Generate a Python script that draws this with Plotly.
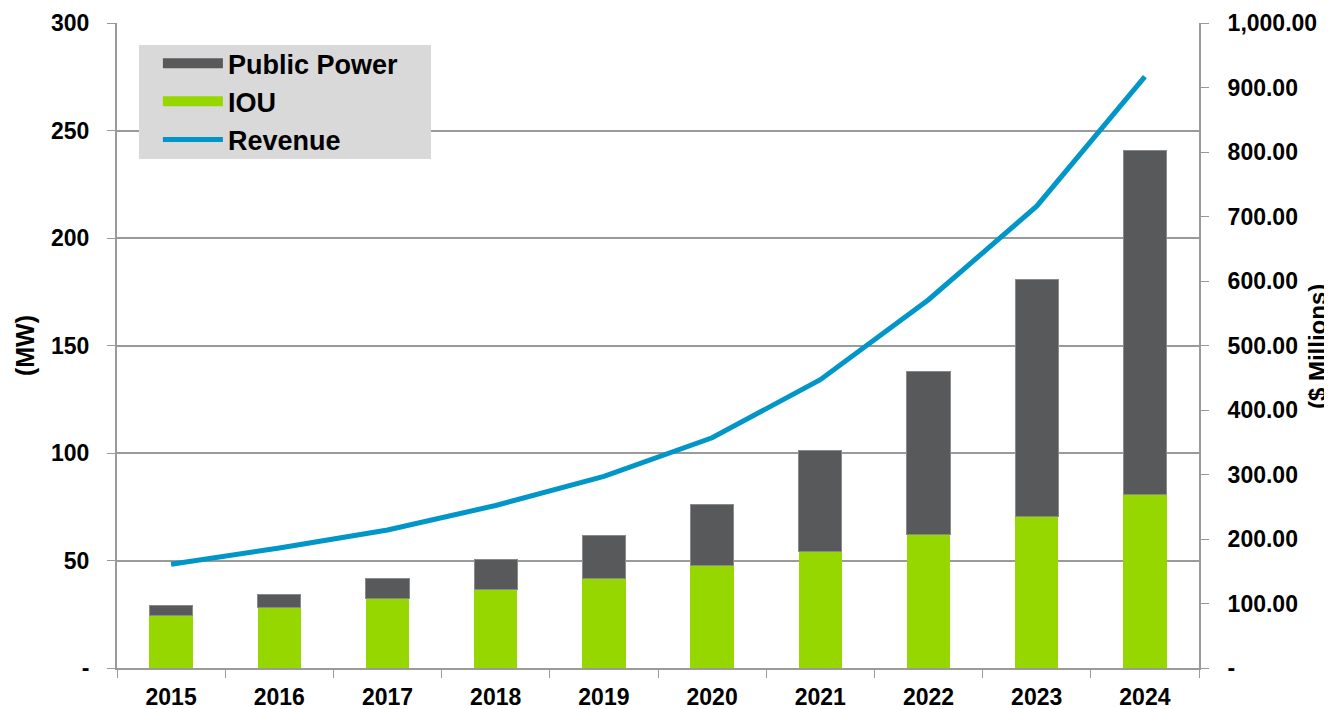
import plotly.graph_objects as go

years = ["2015", "2016", "2017", "2018", "2019", "2020", "2021", "2022", "2023", "2024"]
iou = [24.6, 28.0, 32.1, 36.6, 41.7, 47.6, 54.3, 62.0, 70.7, 80.6]
total = [29.0, 34.4, 41.4, 50.4, 61.5, 76.1, 101.2, 137.7, 180.7, 240.7]
public_power = [round(t - i, 1) for t, i in zip(total, iou)]
revenue = [161, 186, 214, 252, 297, 357, 447, 571, 716, 917]

left_ticks = [0, 50, 100, 150, 200, 250, 300]
left_labels = ["-", "50", "100", "150", "200", "250", "300"]
right_ticks = [0, 100, 200, 300, 400, 500, 600, 700, 800, 900, 1000]
right_labels = ["-", "100.00", "200.00", "300.00", "400.00", "500.00", "600.00",
                "700.00", "800.00", "900.00", "1,000.00"]

GREEN = "#97d700"
DARK = "#58595b"
BLUE = "#0096c8"
GRID = "#9a9a9a"
FONT = "Liberation Sans, Arial, sans-serif"

fig = go.Figure()
fig.add_trace(go.Bar(x=years, y=iou, name="IOU", marker=dict(color=GREEN, line=dict(width=0)),
                     showlegend=False))
fig.add_trace(go.Bar(x=years, y=public_power, name="Public Power",
                     marker=dict(color=DARK, line=dict(color="#8a8a8a", width=1)),
                     showlegend=False))
fig.add_trace(go.Scatter(x=years, y=revenue, name="Revenue", yaxis="y2", mode="lines",
                         line=dict(color=BLUE, width=5), showlegend=False))

# legend proxies
fig.add_trace(go.Scatter(x=[None], y=[None], mode="lines", name="Public Power",
                         line=dict(color=DARK, width=15)))
fig.add_trace(go.Scatter(x=[None], y=[None], mode="lines", name="IOU",
                         line=dict(color=GREEN, width=15)))
fig.add_trace(go.Scatter(x=[None], y=[None], mode="lines", name="Revenue",
                         line=dict(color=BLUE, width=5)))

# legend background box
fig.add_shape(type="rect", xref="paper", yref="paper",
              x0=0.0203, x1=0.2902, y0=0.789, y1=0.966,
              fillcolor="#d9d9d9", line=dict(width=0), layer="above")

# right axis title
fig.add_annotation(text="($ Millions)", xref="paper", yref="paper", x=1.109, y=0.499,
                   xanchor="center", yanchor="middle", textangle=-90, showarrow=False,
                   font=dict(size=24, weight="bold"))

fig.update_layout(
    width=1324, height=701,
    margin=dict(l=109, r=133, t=15, b=41),
    barmode="stack", bargap=0.6,
    plot_bgcolor="white", paper_bgcolor="white",
    font=dict(family=FONT, size=23, color="black", weight="bold"),
    xaxis=dict(type="category", showline=True, linecolor=GRID, linewidth=2,
               ticks="outside", tickson="boundaries", ticklen=8, tickcolor=GRID, tickwidth=1,
               showgrid=False, tickfont=dict(size=23, weight="bold"), automargin=False,
               ticklabelstandoff=7),
    yaxis=dict(range=[0, 300], tickvals=left_ticks, ticktext=left_labels,
               showline=True, linecolor=GRID, linewidth=2, ticks="outside", ticklen=8,
               tickcolor=GRID, showgrid=True, gridcolor=GRID, gridwidth=2, zeroline=False,
               title=dict(text="(MW)", font=dict(size=25, weight="bold"), standoff=9),
               tickfont=dict(size=23, weight="bold"), automargin=False,
               ticklabelstandoff=13),
    yaxis2=dict(range=[0, 1000], tickvals=right_ticks, ticktext=right_labels,
                overlaying="y", side="right", showline=True, linecolor=GRID, linewidth=2,
                ticks="outside", ticklen=8, tickcolor=GRID, showgrid=False, zeroline=False,
                tickfont=dict(size=23, weight="bold"), automargin=False,
                ticklabelstandoff=14),
    legend=dict(x=0.0378, y=0.975, xanchor="left", yanchor="top", bgcolor="rgba(0,0,0,0)",
                font=dict(size=27, weight="bold"), itemwidth=60, tracegroupgap=0,
                borderwidth=0, traceorder="normal"),
)

fig.write_html("out.html")
